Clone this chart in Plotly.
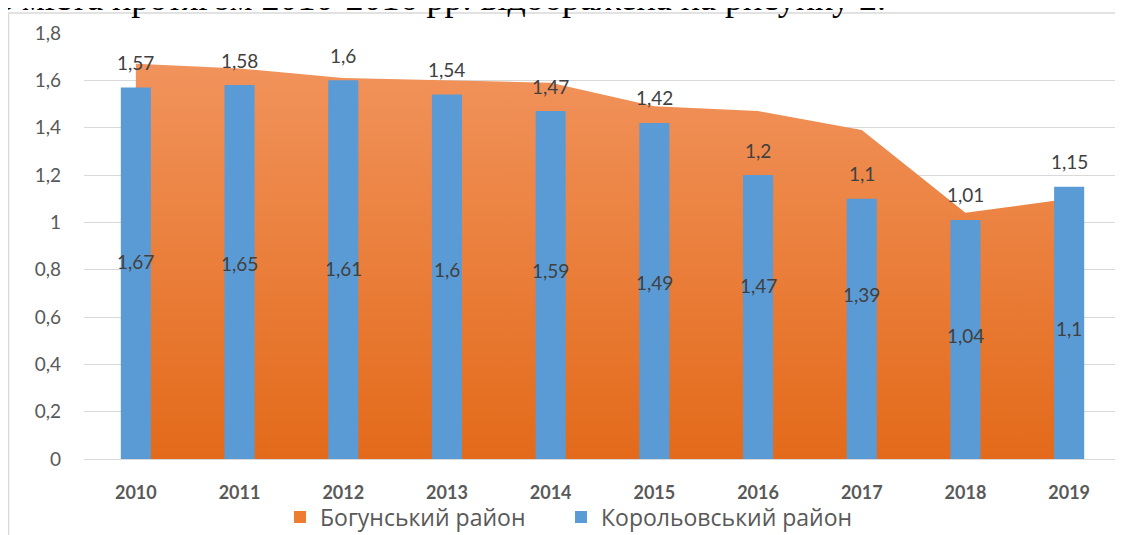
import plotly.graph_objects as go

years = [2010, 2011, 2012, 2013, 2014, 2015, 2016, 2017, 2018, 2019]
bohunskyi = [1.67, 1.65, 1.61, 1.6, 1.59, 1.49, 1.47, 1.39, 1.04, 1.1]
korolovskyi = [1.57, 1.58, 1.6, 1.54, 1.47, 1.42, 1.2, 1.1, 1.01, 1.15]
y_ticks = [0, 0.2, 0.4, 0.6, 0.8, 1.0, 1.2, 1.4, 1.6, 1.8]
y_tick_labels = ["0", "0,2", "0,4", "0,6", "0,8", "1", "1,2", "1,4", "1,6", "1,8"]
name_b = "Богунський район"
name_k = "Корольовський район"
caption = "в міста протягом 2010-2016 рр. відображена на рисунку 2."

ORANGE = "#ed7d31"
BLUE = "#5b9bd5"
SANS = "Lato, 'Open Sans', sans-serif"
LABEL_FONT = dict(family=SANS, size=19, color="#404040")
LEGEND_FONT = dict(family="'Open Sans', sans-serif", size=23, color="#595959")


def fmt(v):
    return ("%g" % v).replace(".", ",")


fig = go.Figure()

# Area (Богунський) on the base axes
fig.add_trace(go.Scatter(
    x=years, y=bohunskyi, mode="lines", fill="tozeroy",
    line=dict(width=0, color=ORANGE),
    fillgradient=dict(type="vertical",
                      colorscale=[[0, "#e36a1a"], [1, "#f1935c"]]),
    showlegend=False, hoverinfo="skip", xaxis="x", yaxis="y",
))

# Bars (Корольовський) on overlaid axes so they draw on top of the area
fig.add_trace(go.Bar(
    x=years, y=korolovskyi, width=0.29,
    marker=dict(color=BLUE, line=dict(width=0)),
    showlegend=False, xaxis="x2", yaxis="y2",
))

# legend entries (two legends to control spacing)
fig.add_trace(go.Scatter(x=[None], y=[None], mode="markers", name=name_b,
                         marker=dict(symbol="square", size=15, color=ORANGE),
                         legend="legend"))
fig.add_trace(go.Scatter(x=[None], y=[None], mode="markers", name=name_k,
                         marker=dict(symbol="square", size=15, color=BLUE),
                         legend="legend2"))

annotations = []
for x, v in zip(years, korolovskyi):
    annotations.append(dict(x=x, y=v, xref="x", yref="y", text=fmt(v),
                            showarrow=False, yshift=25, font=LABEL_FONT))
for x, v in zip(years, bohunskyi):
    annotations.append(dict(x=x, y=v / 2, xref="x", yref="y", text=fmt(v),
                            showarrow=False, font=LABEL_FONT))
annotations.append(dict(x=-0.0868, y=1.031, xref="paper", yref="paper",
                        xanchor="left", yanchor="bottom", text=caption,
                        showarrow=False,
                        font=dict(family="Liberation Serif, Times New Roman, serif",
                                  size=36, color="#000000")))

legend_common = dict(orientation="h", y=-0.136, yanchor="middle",
                     xanchor="left", bgcolor="rgba(0,0,0,0)",
                     font=LEGEND_FONT, itemsizing="constant")

fig.update_layout(
    width=1115, height=527,
    margin=dict(l=76, r=2, t=25, b=76, autoexpand=False),
    paper_bgcolor="white", plot_bgcolor="white",
    xaxis=dict(range=[2009.5, 2019.5], tickmode="array", tickvals=years,
               ticktext=[str(y) for y in years], showgrid=False, zeroline=False,
               ticks="", ticklabelstandoff=17, automargin=False,
               tickfont=dict(family=SANS, size=18, color="#595959", weight="bold"),
               showline=True, linecolor="#d9d9d9", linewidth=1),
    yaxis=dict(range=[0, 1.8], tickmode="array", tickvals=y_ticks,
               ticktext=y_tick_labels, showgrid=True, gridcolor="#d9d9d9",
               gridwidth=1, zeroline=False, ticks="", ticklabelstandoff=22,
               automargin=False,
               tickfont=dict(family=SANS, size=19, color="#595959")),
    xaxis2=dict(range=[2009.5, 2019.5], overlaying="x", showticklabels=False,
                showgrid=False, zeroline=False),
    yaxis2=dict(range=[0, 1.8], overlaying="y", showticklabels=False,
                showgrid=False, zeroline=False),
    legend=dict(x=0.189, **legend_common),
    legend2=dict(x=0.46, **legend_common),
    annotations=annotations,
    shapes=[dict(type="rect", xref="paper", yref="paper",
                 x0=-0.0728, x1=1.2, y0=-0.5, y1=1.047,
                 line=dict(color="#d9d9d9", width=1.5), layer="below")],
    showlegend=True,
)

fig.write_html("out.html")
